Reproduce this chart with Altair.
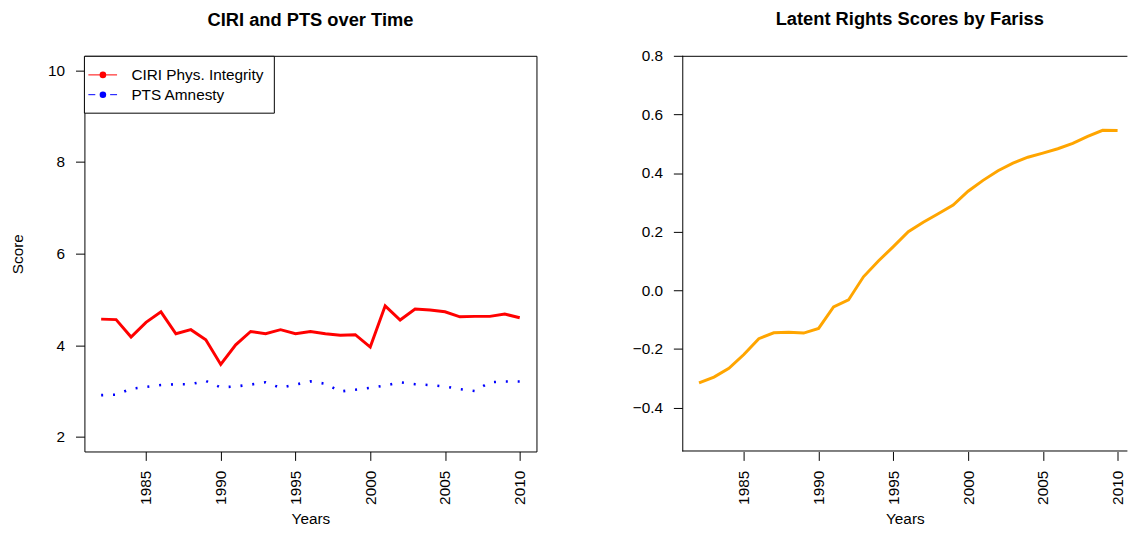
import altair as alt
import pandas as pd

# ---- data ----
years = list(range(1982, 2011))
ciri = [4.57, 4.56, 4.18, 4.50, 4.73, 4.25, 4.34, 4.12, 3.58, 4.01,
        4.30, 4.25, 4.34, 4.25, 4.30, 4.25, 4.22, 4.23, 3.96, 4.86,
        4.55, 4.79, 4.77, 4.73, 4.62, 4.63, 4.63, 4.68, 4.60]
pts = [2.91, 2.92, 3.05, 3.09, 3.13, 3.15, 3.15, 3.22, 3.08, 3.10,
       3.14, 3.19, 3.07, 3.14, 3.21, 3.16, 2.99, 3.03, 3.07, 3.12,
       3.19, 3.15, 3.13, 3.10, 3.04, 3.00, 3.19, 3.21, 3.21]
latent = [-0.316, -0.296, -0.266, -0.219, -0.165, -0.145, -0.143, -0.146, -0.130, -0.057,
          -0.033, 0.046, 0.100, 0.149, 0.200, 0.232, 0.261, 0.291, 0.338, 0.375,
          0.408, 0.434, 0.454, 0.468, 0.483, 0.501, 0.525, 0.546, 0.545]
series_names = ["CIRI Phys. Integrity", "PTS Amnesty"]
panel_titles = ["CIRI and PTS over Time", "Latent Rights Scores by Fariss"]
x_ticks = [1985, 1990, 1995, 2000, 2005, 2010]
left_ticks = [2, 4, 6, 8, 10]
right_ticks = [-0.4, -0.2, 0.0, 0.2, 0.4, 0.6, 0.8]
x_title = "Years"
left_y_title = "Score"

FONT = "Liberation Sans"
FS = 15.5
PX_PER_YEAR = 457 / 30.24
H = 400

df_left = pd.DataFrame({"year": years, "ciri": ciri, "pts": pts})
df_right = pd.DataFrame({"year": years, "latent": latent})


def x_axis():
    return alt.Axis(values=x_ticks, format="d", labelAngle=270, labelAlign="right",
                    labelBaseline="middle", labelFont=FONT, labelFontSize=FS,
                    labelColor="black", tickColor="black", tickSize=9, labelPadding=10,
                    domain=False, grid=False, title=x_title, titleFont=FONT,
                    titleFontSize=FS, titleFontWeight="normal", titleColor="black",
                    titleY=72.5, titleBaseline="alphabetic")


def title(text, offset, dx=0):
    return alt.TitleParams(text=text, font=FONT, fontSize=18.5, fontWeight="bold",
                           anchor="middle", frame="group", offset=offset, baseline="bottom",
                           color="black", dx=dx)


xs_left = alt.Scale(domain=[1980.88, 2011.12], nice=False, zero=False)
ys_left = alt.Scale(domain=[1.68, 10.32], nice=False, zero=False)

base_l = alt.Chart(df_left)
ciri_line = base_l.mark_line(color="#FF0000", strokeWidth=3).encode(
    x=alt.X("year:Q", scale=xs_left, axis=x_axis()),
    y=alt.Y("ciri:Q", scale=ys_left,
            axis=alt.Axis(values=left_ticks, labelFont=FONT, labelFontSize=FS,
                          labelColor="black", tickColor="black", tickSize=9,
                          labelPadding=11, domain=False, grid=False,
                          title=left_y_title, titleFont=FONT, titleFontSize=FS,
                          titleFontWeight="normal", titleColor="black",
                          titleX=-68, titleY=H / 2, titleAngle=270,
                          titleAlign="center", titleBaseline="middle")),
)
pts_line = base_l.mark_line(color="#0000FF", strokeWidth=2.6, strokeDash=[2, 10],
                            strokeCap="butt").encode(
    x=alt.X("year:Q", scale=xs_left),
    y=alt.Y("pts:Q", scale=ys_left),
)

one = alt.Data(values=[{"k": 1}])
leg_box = alt.Chart(one).mark_rect(fill="white", stroke="black", strokeWidth=1).encode(
    x=alt.value(0), x2=alt.value(192), y=alt.value(0.5), y2=alt.value(58))
leg_rule1 = alt.Chart(one).mark_rule(color="#FF0000", strokeWidth=1).encode(
    x=alt.value(4), x2=alt.value(33), y=alt.value(19.3))
leg_pt1 = alt.Chart(one).mark_point(filled=True, color="#FF0000", size=44, opacity=1).encode(
    x=alt.value(18.7), y=alt.value(19.3))
leg_tx1 = alt.Chart(one).mark_text(text=series_names[0], font=FONT, fontSize=FS, align="left",
                                   baseline="middle", color="black").encode(
    x=alt.value(47.5), y=alt.value(19.3))
leg_rule2 = alt.Chart(one).mark_rule(color="#0000FF", strokeWidth=1, strokeDash=[7, 15]).encode(
    x=alt.value(4), x2=alt.value(33), y=alt.value(39.3))
leg_pt2 = alt.Chart(one).mark_point(filled=True, color="#0000FF", size=44, opacity=1).encode(
    x=alt.value(18.7), y=alt.value(39.3))
leg_tx2 = alt.Chart(one).mark_text(text=series_names[1], font=FONT, fontSize=FS, align="left",
                                   baseline="middle", color="black").encode(
    x=alt.value(47.5), y=alt.value(39.3))

left = alt.layer(ciri_line, pts_line, leg_box, leg_rule1, leg_pt1, leg_tx1,
                 leg_rule2, leg_pt2, leg_tx2).properties(
    width=457, height=H, title=title(panel_titles[0], 8),
    view=alt.ViewBackground(stroke="black", strokeWidth=1))

# right panel: its right border falls outside the picture, so only three sides are drawn
right_w = 450
xs_right = alt.Scale(domain=[1980.88, 1980.88 + right_w / PX_PER_YEAR], nice=False, zero=False)
ys_right = alt.Scale(domain=[-0.55, 0.80], nice=False, zero=False)

latent_line = alt.Chart(df_right).mark_line(color="#FFA500", strokeWidth=3).encode(
    x=alt.X("year:Q", scale=xs_right, axis=x_axis()),
    y=alt.Y("latent:Q", scale=ys_right,
            axis=alt.Axis(values=right_ticks, format=".1f", labelFont=FONT, labelFontSize=FS,
                          labelColor="black", tickColor="black", tickSize=9,
                          labelPadding=11, domain=False, grid=False, title=None)),
)
edge_top = alt.Chart(one).mark_rule(color="black", strokeWidth=1).encode(
    x=alt.value(0), x2=alt.value(right_w), y=alt.value(0.5))
edge_bottom = alt.Chart(one).mark_rule(color="black", strokeWidth=1).encode(
    x=alt.value(0), x2=alt.value(right_w), y=alt.value(H - 0.5))
edge_left = alt.Chart(one).mark_rule(color="black", strokeWidth=1).encode(
    x=alt.value(0.5), y=alt.value(0), y2=alt.value(H))

right = alt.layer(latent_line, edge_top, edge_bottom, edge_left).properties(
    width=right_w, height=H, title=title(panel_titles[1], 2, dx=5),
    view=alt.ViewBackground(stroke="transparent", strokeWidth=0))

chart = alt.hconcat(left, right, spacing=95.4).properties(
    padding={"left": 1.25, "top": -1.5, "right": 0, "bottom": -4},
    background="white",
)

chart.save("out.html", embed_options={"renderer": "svg", "actions": False})
